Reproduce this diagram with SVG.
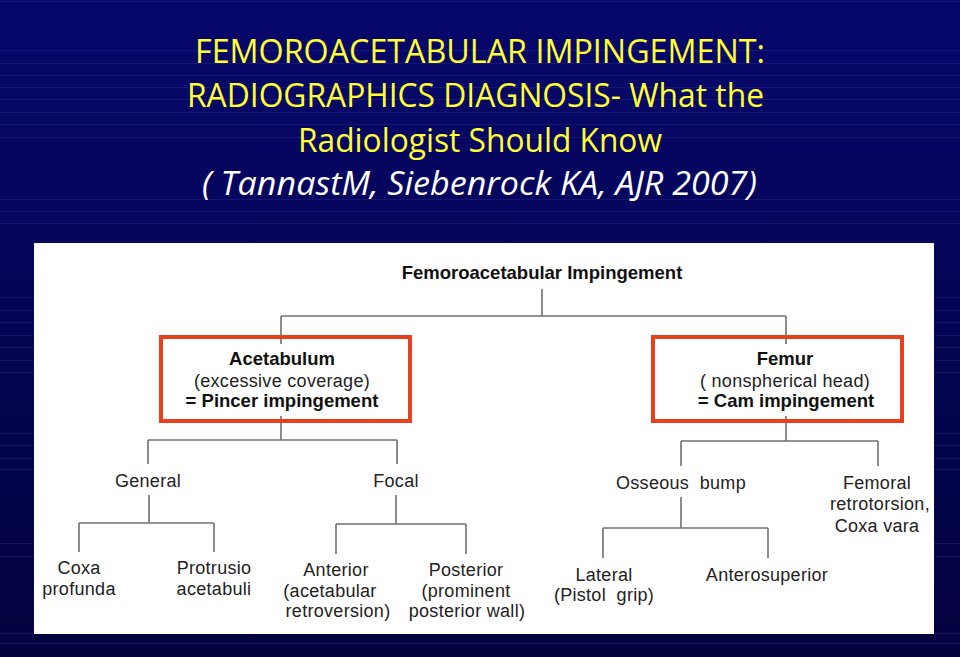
<svg xmlns="http://www.w3.org/2000/svg" width="960" height="657" viewBox="0 0 960 657">
<defs>
<linearGradient id="bg" x1="0" y1="0" x2="0" y2="1">
<stop offset="0" stop-color="#07076c"/>
<stop offset="1" stop-color="#03033e"/>
</linearGradient>
<style>
.stripe{stroke:#3a3aa0;stroke-width:1;opacity:0.3}
.title{font-family:"Open Sans","Liberation Sans",sans-serif;font-size:32px;fill:#ffff33}
.sub{font-family:"Open Sans","Liberation Sans",sans-serif;font-size:32px;font-style:italic;fill:#ffffff}
.b{font-family:"Liberation Sans",Arial,sans-serif;font-size:18.5px;font-weight:bold;fill:#111;text-anchor:middle}
.r{font-family:"Liberation Sans",Arial,sans-serif;font-size:18px;letter-spacing:0.3px;fill:#222;text-anchor:middle}
.pre{white-space:pre}
.ln{stroke:#707070;stroke-width:1.6;fill:none}
.box{fill:none;stroke:#e8401c;stroke-width:4}
</style>
</defs>
<rect x="0" y="0" width="960" height="657" fill="url(#bg)"/>
<g id="stripes">
<line class="stripe" x1="0" y1="1.5" x2="960" y2="1.5"/>
<line class="stripe" x1="0" y1="50.5" x2="960" y2="50.5"/>
<line class="stripe" x1="0" y1="63.5" x2="960" y2="63.5"/>
<line class="stripe" x1="0" y1="75.5" x2="960" y2="75.5"/>
<line class="stripe" x1="0" y1="87.5" x2="960" y2="87.5"/>
<line class="stripe" x1="0" y1="99.5" x2="960" y2="99.5"/>
<line class="stripe" x1="0" y1="112.5" x2="960" y2="112.5"/>
<line class="stripe" x1="0" y1="124.5" x2="960" y2="124.5"/>
<line class="stripe" x1="0" y1="137.5" x2="960" y2="137.5"/>
<line class="stripe" x1="0" y1="199.5" x2="960" y2="199.5"/>
<line class="stripe" x1="0" y1="211.5" x2="960" y2="211.5"/>
<line class="stripe" x1="0" y1="223.5" x2="960" y2="223.5"/>
<line class="stripe" x1="0" y1="297.5" x2="960" y2="297.5"/>
<line class="stripe" x1="0" y1="310.5" x2="960" y2="310.5"/>
<line class="stripe" x1="0" y1="322.5" x2="960" y2="322.5"/>
<line class="stripe" x1="0" y1="335.5" x2="960" y2="335.5"/>
<line class="stripe" x1="0" y1="347.5" x2="960" y2="347.5"/>
<line class="stripe" x1="0" y1="360.5" x2="960" y2="360.5"/>
<line class="stripe" x1="0" y1="372.5" x2="960" y2="372.5"/>
<line class="stripe" x1="0" y1="433.5" x2="960" y2="433.5"/>
<line class="stripe" x1="0" y1="445.5" x2="960" y2="445.5"/>
<line class="stripe" x1="0" y1="458.5" x2="960" y2="458.5"/>
<line class="stripe" x1="0" y1="469.5" x2="960" y2="469.5"/>
<line class="stripe" x1="0" y1="543.5" x2="960" y2="543.5"/>
<line class="stripe" x1="0" y1="556.5" x2="960" y2="556.5"/>
<line class="stripe" x1="0" y1="633.5" x2="960" y2="633.5"/>
<line class="stripe" x1="0" y1="643.5" x2="960" y2="643.5"/>
</g>
<g id="heading">
<text class="title" x="195" y="63" textLength="570" lengthAdjust="spacingAndGlyphs">FEMOROACETABULAR IMPINGEMENT:</text>
<text class="title" x="187" y="107" textLength="577" lengthAdjust="spacingAndGlyphs">RADIOGRAPHICS DIAGNOSIS- What the</text>
<text class="title" x="298" y="152" textLength="364" lengthAdjust="spacingAndGlyphs">Radiologist Should Know</text>
<text class="sub" x="202" y="195" textLength="555" lengthAdjust="spacingAndGlyphs">( TannastM, Siebenrock KA, AJR 2007)</text>
</g>
<rect x="34" y="243" width="900" height="391" fill="#ffffff"/>
<g id="connectors">
<path class="ln" d="M542 289V316M281 316H786M281 316V344M786 316V344"/>
<path class="ln" d="M281 416V440M148 440H397M148 440V464M397 440V464"/>
<path class="ln" d="M149 495V523M79 523H214M79 523V552M214 523V552"/>
<path class="ln" d="M396 495V524M336 524H466M336 524V554M466 524V554"/>
<path class="ln" d="M786 416V441M681 441H878M681 441V466M878 441V466"/>
<path class="ln" d="M681 497V528M603 528H768M603 528V558M768 528V558"/>
</g>
<g id="node-root">
<text class="b" x="542" y="279">Femoroacetabular Impingement</text>
</g>
<g id="node-acetabulum">
<rect class="box" x="161" y="337" width="249" height="84"/>
<text class="b" x="282" y="365">Acetabulum</text>
<text class="r" x="282" y="387">(excessive coverage)</text>
<text class="b" x="282" y="407">= Pincer impingement</text>
</g>
<g id="node-femur">
<rect class="box" x="653" y="337" width="249" height="84"/>
<text class="b" x="785" y="365">Femur</text>
<text class="r" x="785" y="387">( nonspherical head)</text>
<text class="b" x="786" y="407">= Cam impingement</text>
</g>
<g id="node-general"><text class="r" x="148" y="487">General</text></g>
<g id="node-focal"><text class="r" x="396" y="487">Focal</text></g>
<g id="node-coxa-profunda">
<text class="r" x="79" y="574">Coxa</text>
<text class="r" x="79" y="595">profunda</text>
</g>
<g id="node-protrusio">
<text class="r" x="214" y="574">Protrusio</text>
<text class="r" x="214" y="595">acetabuli</text>
</g>
<g id="node-anterior">
<text class="r" x="336" y="576">Anterior</text>
<text class="r" x="330" y="597">(acetabular</text>
<text class="r" x="338" y="617">retroversion)</text>
</g>
<g id="node-posterior">
<text class="r" x="466" y="576">Posterior</text>
<text class="r" x="466" y="597">(prominent</text>
<text class="r" x="467" y="617">posterior wall)</text>
</g>
<g id="node-osseous"><text class="r pre" x="681" y="489">Osseous  bump</text></g>
<g id="node-retrotorsion">
<text class="r" x="877" y="489">Femoral</text>
<text class="r" x="880" y="510">retrotorsion,</text>
<text class="r" x="877" y="532">Coxa vara</text>
</g>
<g id="node-lateral">
<text class="r" x="604" y="581">Lateral</text>
<text class="r pre" x="604" y="601">(Pistol  grip)</text>
</g>
<g id="node-anterosuperior"><text class="r" x="767" y="581">Anterosuperior</text></g>
</svg>
